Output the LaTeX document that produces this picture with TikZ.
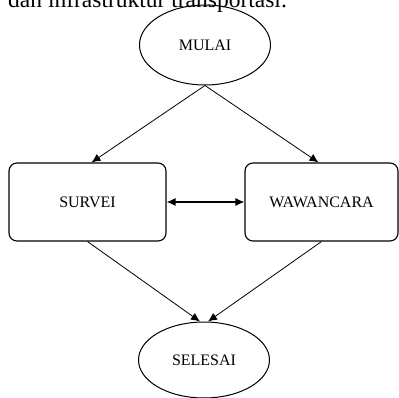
\documentclass[tikz,border=0pt]{standalone}
\usepackage{fontspec}
\setmainfont{Liberation Serif}
\usetikzlibrary{arrows,arrows.meta,shapes,positioning}

\begin{document}
\begin{tikzpicture}[x=1pt,y=-1pt]
\tikzstyle{every node}=[font=\fontsize{16}{19}\selectfont]
\tikzstyle{terminal}=[ellipse, draw, line width=1pt, inner sep=0pt, minimum width=131, minimum height=80]
\tikzstyle{kotak}=[rectangle, draw, line width=1.1pt, rounded corners=8pt, minimum height=78]
\tikzstyle{panah}=[-{Latex[length=9pt,width=8pt]}, thick]
\clip (0,0) rectangle (399,398);
\node[anchor=base west, font=\fontsize{23.5}{28}\selectfont, inner sep=0pt] (teks) at (8,8) {dan infrastruktur transportasi.};
\node[terminal] (mulai) at (205,45) {MULAI};
\node[kotak, minimum width=157] (survei) at (87.5,202) {SURVEI};
\node[kotak, minimum width=153] (wawancara) at (321.5,202) {WAWANCARA};
\node[terminal, minimum height=76] (selesai) at (204,360) {SELESAI};

\draw [panah] (mulai.south) -- ([xshift=4]survei.north);
\draw [panah] (mulai.south) -- ([xshift=-3]wawancara.north);
\draw [{Latex[length=9pt,width=8pt]}-{Latex[length=9pt,width=8pt]}, line width=1.2pt] (survei.east) -- (wawancara.west);
\draw [panah] (survei.south) -- ([xshift=-4]selesai.north);
\draw [panah] (wawancara.south) -- ([xshift=4]selesai.north);

\end{tikzpicture}
\end{document}
